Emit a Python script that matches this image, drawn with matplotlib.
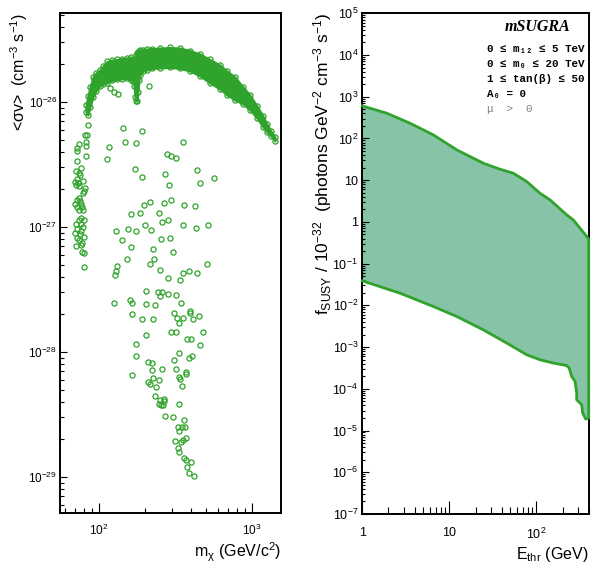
import numpy as np
import matplotlib
matplotlib.use('Agg')
import matplotlib.pyplot as plt
from matplotlib.ticker import LogLocator, FixedLocator, FixedFormatter, NullFormatter

plt.rcParams['font.family'] = ['Liberation Sans', 'DejaVu Sans']
plt.rcParams['mathtext.fontset'] = 'custom'
plt.rcParams['mathtext.rm'] = 'Liberation Sans'
plt.rcParams['mathtext.it'] = 'Liberation Sans:italic'
plt.rcParams['mathtext.bf'] = 'Liberation Sans:bold'
plt.rcParams['mathtext.default'] = 'regular'

# ---------------- data: left panel (sigma v in units of 1e-26 cm^3 s^-1) -------------
scatter_mass = [211, 143, 190, 116, 147, 175, 356, 112, 279, 294, 320, 171, 190, 269, 437,
                287, 457, 563, 196, 216, 265, 296, 358, 426, 162, 186, 247, 257, 281, 199,
                219, 352, 432, 518, 129, 155, 175, 141, 253, 293, 163, 225, 306, 153, 230,
                131, 130, 127, 216, 251, 352, 389, 437, 506, 284, 340, 204, 244, 258, 252,
                283, 317, 125, 160, 164, 202, 233, 345, 394, 391, 451, 309, 164, 190, 225,
                325, 352, 411, 333, 297, 319, 202, 476, 376, 401, 455, 175, 174, 332, 308,
                386, 404, 210, 223, 221, 260, 317, 165, 370, 371, 335, 336, 226, 246, 210,
                216, 236, 349, 233, 267, 251, 265, 246, 263, 256, 332, 271, 303, 361, 327,
                349, 366, 332, 315, 342, 356, 372, 328, 332, 359, 369, 397, 376, 388, 416]
scatter_sigv = [1.34, 0.616, 0.589, 0.437, 0.479, 0.470, 0.481, 0.352, 0.382, 0.370, 0.358,
                0.293, 0.253, 0.267, 0.286, 0.216, 0.225, 0.248, 0.151, 0.158, 0.155, 0.165,
                0.151, 0.148, 0.128, 0.130, 0.130, 0.110, 0.114, 0.104, 0.094, 0.104, 0.0987,
                0.104, 0.0924, 0.097, 0.0934, 0.0783, 0.080, 0.082, 0.0688, 0.0663, 0.0628,
                0.0555, 0.0555, 0.049, 0.0447, 0.0411, 0.0508, 0.0453, 0.0431, 0.0445, 0.0426,
                0.0508, 0.0393, 0.0379, 0.0309, 0.030, 0.030, 0.0281, 0.0291, 0.0287, 0.0248,
                0.0259, 0.0245, 0.0243, 0.0239, 0.0245, 0.0212, 0.0204, 0.0193, 0.0204, 0.0202,
                0.0184, 0.0183, 0.0186, 0.0187, 0.0183, 0.0171, 0.0145, 0.0145, 0.0138, 0.0144,
                0.0127, 0.0127, 0.0113, 0.0116, 0.00929, 0.00977, 0.00868, 0.0090, 0.00925,
                0.00832, 0.0082, 0.00718, 0.00731, 0.00735, 0.00651, 0.00692, 0.00663, 0.00631,
                0.00605, 0.00616, 0.00597, 0.00572, 0.00555, 0.00528, 0.00532, 0.00445, 0.00419,
                0.00413, 0.00408, 0.00386, 0.00379, 0.0038, 0.00384, 0.00309, 0.00302, 0.00287,
                0.0025, 0.00252, 0.0025, 0.00232, 0.00194, 0.00191, 0.00196, 0.00205, 0.00171,
                0.00158, 0.00143, 0.00137, 0.00133, 0.0012, 0.00108, 0.00102]

column_mass = [118, 125, 133, 85, 83, 81, 82.7, 82.5, 73.6, 72, 71.5, 82, 72, 76.3, 70.4,
               73.6, 75.5, 71.5, 69.7, 73.2, 78.2, 71.1, 73.6, 80.2, 78.9, 81, 73.6, 71.5,
               75.2, 76.3, 69.7, 72.1, 77.4, 74, 78.9, 76.6, 79.8, 74, 70.4, 75.9, 78.9, 71.5,
               75.9, 69.7, 75.2, 80.2, 71.5, 74.3, 77.8, 70.4, 75.9, 77.1, 79.8, 79.8]
column_sigv = [1.287, 1.196, 1.152, 0.651, 0.548, 0.548, 0.476, 0.445, 0.459, 0.429, 0.408,
               0.370, 0.339, 0.296, 0.282, 0.269, 0.262, 0.242, 0.230, 0.226, 0.235, 0.217,
               0.213, 0.194, 0.186, 0.205, 0.170, 0.164, 0.162, 0.153, 0.152, 0.145, 0.145,
               0.137, 0.137, 0.118, 0.114, 0.114, 0.106, 0.1057, 0.1005, 0.0964, 0.0934,
               0.0891, 0.0879, 0.0828, 0.0813, 0.0787, 0.0741, 0.0705, 0.0718, 0.0634, 0.0616,
               0.0476]

band_mass = [82.2, 84.7, 87.3, 91.4, 95.6, 101.5, 106.2, 112.8, 121.6, 131.1, 141.3, 152.4,
             161.8, 166.7, 169.3, 171.8, 174.5, 177.1, 179.8, 182.6, 185.4, 194.0, 206.0,
             222.1, 250.6, 291.2, 338.4, 393.4, 457.2, 531.6, 617.9, 686.6, 774, 874, 970,
             1078, 1180, 1253, 1331, 1414]
band_sigv_hi = [0.946, 1.117, 1.318, 1.585, 1.706, 1.803, 1.941, 2.109, 2.168, 2.188, 2.228,
                2.249, 2.291, 2.208, 2.089, 2.168, 2.377, 2.466, 2.512, 2.559, 2.606, 2.630,
                2.655, 2.679, 2.704, 2.729, 2.704, 2.582, 2.421, 2.188, 1.977, 1.770, 1.585,
                1.318, 1.138, 0.929, 0.773, 0.667, 0.586, 0.525]
band_sigv_lo = [0.832, 0.787, 0.912, 1.096, 1.225, 1.343, 1.393, 1.419, 1.486, 1.514, 1.528,
                1.542, 1.500, 1.480, 1.343, 1.096, 1.019, 1.019, 1.202, 1.500, 1.644, 1.770,
                1.803, 1.854, 1.871, 1.888, 1.854, 1.770, 1.614, 1.419, 1.271, 1.138, 1.038,
                0.964, 0.863, 0.745, 0.631, 0.575, 0.535, 0.488]

left_xticks = [100, 1000]
left_xtick_labels = ['10$^{2}$', '10$^{3}$']
left_yticks = [1e-29, 1e-28, 1e-27, 1e-26]
left_ytick_labels = ['10$^{-29}$', '10$^{-28}$', '10$^{-27}$', '10$^{-26}$']

# ---------------- data: right panel -------------
ethr_hi = [1.0, 1.91, 3.53, 6.55, 12.2, 24.6, 38.3, 54.4, 77.6, 110, 144, 224, 266, 380, 400]
fsusy_hi = [603, 403, 232, 122, 53.2, 25.5, 18.3, 14.7, 9.26, 4.88, 3.37, 1.47, 1.12, 0.446, 0.386]
ethr_lo = [1.0, 2.71, 6.55, 12.2, 24.6, 45.7, 77.6, 110, 157, 223, 239, 255, 279, 291, 291,
           332, 341, 370, 400]
fsusy_lo = [0.0387, 0.0196, 0.0094, 0.0054, 0.00259, 0.00125, 0.000654, 0.000497, 0.000414,
            0.000362, 0.000314, 0.000198, 0.000150, 7.9e-5, 5.47e-5, 4.15e-5, 2.62e-5,
            1.88e-5, 2.0e-5]

right_xticks = [1, 10, 100]
right_xtick_labels = ['1', '10', '10$^{2}$']
right_yticks = [1e-7, 1e-6, 1e-5, 1e-4, 1e-3, 1e-2, 1e-1, 1, 10, 1e2, 1e3, 1e4, 1e5]
right_ytick_labels = ['10$^{-7}$', '10$^{-6}$', '10$^{-5}$', '10$^{-4}$', '10$^{-3}$',
                      '10$^{-2}$', '10$^{-1}$', '1', '10', '10$^{2}$', '10$^{3}$',
                      '10$^{4}$', '10$^{5}$']

legend_lines = ['0 ≤ m₁₂ ≤ 5 TeV', '0 ≤ m₀ ≤ 20 TeV', '1 ≤ tan(β) ≤ 50', 'A₀ = 0']
legend_mu = 'μ  >  0'

# ---------------- figure -------------
GREEN = '#2fa32b'
FILL = '#87c3a6'
W, H = 603, 571
fig = plt.figure(figsize=(W / 100, H / 100), dpi=100)
axL = fig.add_axes([60 / W, 1 - 513 / H, 221 / W, 500 / H])
axR = fig.add_axes([362.3 / W, 1 - 514 / H, 226.4 / W, 500.7 / H])

# ---- left panel
axL.set_xscale('log')
axL.set_yscale('log')
sc = 1e-26
axL.fill_between(band_mass, np.array(band_sigv_lo) * sc, np.array(band_sigv_hi) * sc,
                 facecolor=GREEN, edgecolor=GREEN, lw=1.5, zorder=2)
axL.plot(band_mass, np.array(band_sigv_hi) * sc, 'o', ls='none', ms=3.7, mfc='none',
         mec=GREEN, mew=0.9, zorder=3)
axL.plot(band_mass, np.array(band_sigv_lo) * sc, 'o', ls='none', ms=3.7, mfc='none',
         mec=GREEN, mew=0.9, zorder=3)
axL.plot(scatter_mass, np.array(scatter_sigv) * sc, 'o', ls='none', ms=3.7, mfc='none',
         mec=GREEN, mew=0.9, zorder=3)
axL.plot(column_mass, np.array(column_sigv) * sc, 'o', ls='none', ms=3.7, mfc='none',
         mec=GREEN, mew=0.9, zorder=3)
axL.set_xlim(55.6, 1548)
axL.set_ylim(10 ** -29.288, 10 ** -25.288)

axL.xaxis.set_major_locator(FixedLocator(left_xticks))
axL.xaxis.set_major_formatter(FixedFormatter(left_xtick_labels))
axL.xaxis.set_minor_locator(LogLocator(base=10, subs=np.arange(2, 10), numticks=30))
axL.xaxis.set_minor_formatter(NullFormatter())
axL.yaxis.set_major_locator(FixedLocator(left_yticks))
axL.yaxis.set_major_formatter(FixedFormatter(left_ytick_labels))
axL.yaxis.set_minor_locator(LogLocator(base=10, subs=np.arange(2, 10), numticks=30))
axL.yaxis.set_minor_formatter(NullFormatter())
axL.tick_params(axis='both', which='both', direction='in', top=False, right=False,
                width=0.8, labelsize=8.5)
axL.tick_params(axis='x', which='major', length=7.2, pad=7)
axL.tick_params(axis='x', which='minor', length=3.3)
axL.tick_params(axis='y', which='major', length=4.8, pad=2)
axL.tick_params(axis='y', which='minor', length=2.9)
for s in axL.spines.values():
    s.set_linewidth(1.4)

axL.set_ylabel('<σv>  (cm$^{-3}$ s$^{-1}$)', fontsize=11.5, loc='top')
axL.yaxis.set_label_coords(-30 / 221, 1.0)
axL.set_xlabel('m$_{χ}$ (GeV/c$^{2}$)', fontsize=11.5, loc='right')
axL.xaxis.set_label_coords(1.0, -28 / 500)

# ---- right panel
axR.set_xscale('log')
axR.set_yscale('log')
poly_x = list(ethr_hi) + list(ethr_lo[::-1])
poly_y = list(fsusy_hi) + list(fsusy_lo[::-1])
axR.fill(poly_x, poly_y, facecolor=FILL, edgecolor='none', zorder=1)
axR.plot(poly_x, poly_y, color=GREEN, lw=2.0, zorder=3, clip_on=False)
axR.set_xlim(1, 400)
axR.set_ylim(1e-7, 1e5)

axR.xaxis.set_major_locator(FixedLocator(right_xticks))
axR.xaxis.set_major_formatter(FixedFormatter(right_xtick_labels))
axR.xaxis.set_minor_locator(LogLocator(base=10, subs=np.arange(2, 10), numticks=30))
axR.xaxis.set_minor_formatter(NullFormatter())
axR.yaxis.set_major_locator(FixedLocator(right_yticks))
axR.yaxis.set_major_formatter(FixedFormatter(right_ytick_labels))
axR.yaxis.set_minor_locator(LogLocator(base=10, subs=np.arange(2, 10), numticks=40))
axR.yaxis.set_minor_formatter(NullFormatter())
axR.tick_params(axis='both', which='both', direction='in', top=False, right=False,
                width=0.8, labelsize=9)
axR.tick_params(axis='x', which='major', length=9.4, pad=9)
axR.tick_params(axis='x', which='minor', length=4.7)
axR.tick_params(axis='y', which='major', length=5.0, pad=3)
axR.tick_params(axis='y', which='minor', length=2.5)
for s in axR.spines.values():
    s.set_linewidth(1.4)

axR.set_ylabel('f$_{SUSY}$ / 10$^{-32}$  (photons GeV$^{-2}$ cm$^{-3}$ s$^{-1}$)',
               fontsize=12.5, loc='top')
axR.yaxis.set_label_coords(-28 / 226.4, 1.0)
axR.set_xlabel('E$_{thr}$ (GeV)', fontsize=11.5, loc='right')
axR.xaxis.set_label_coords(1.0, -31 / 500.7)

# legend-like text block
axR.text(0.918, 0.9726, 'mSUGRA', transform=axR.transAxes, ha='right', va='center',
         fontsize=11.5, fontweight='bold', fontstyle='italic',
         family=['Liberation Serif', 'DejaVu Serif'])
ys = [0.9280, 0.8987, 0.8687, 0.8388]
for txt, yy in zip(legend_lines, ys):
    axR.text(0.549, yy, txt, transform=axR.transAxes, ha='left', va='center',
             fontsize=7.8, fontweight='bold',
             family=['Liberation Mono', 'DejaVu Sans Mono'])
axR.text(0.549, 0.8088, legend_mu, transform=axR.transAxes, ha='left', va='center',
         fontsize=7.8, color='#808080', family=['Liberation Mono', 'DejaVu Sans Mono'])

fig.savefig('out.png', dpi=100)
